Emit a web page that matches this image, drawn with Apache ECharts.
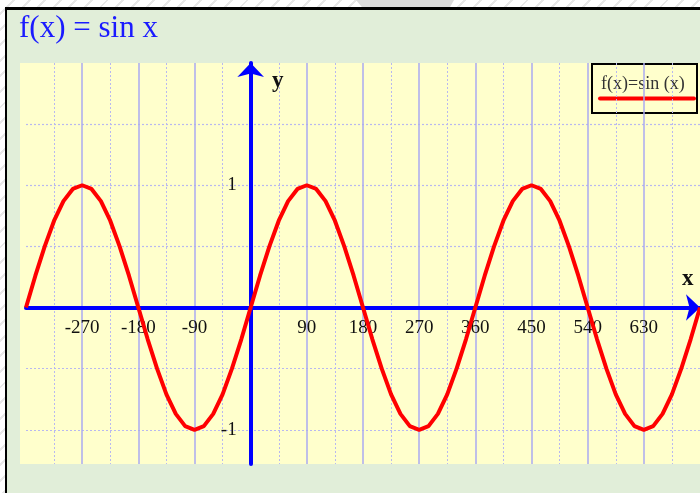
<!DOCTYPE html>
<html>
<head>
<meta charset="utf-8">
<script src="https://cdn.jsdelivr.net/npm/echarts@6/dist/echarts.min.js"></script>
<style>
  html, body { margin: 0; padding: 0; width: 700px; height: 493px; overflow: hidden; }
  body {
    background: repeating-linear-gradient(135deg, #ffffff 0px, #ffffff 9px, #e8e8e8 9px, #e8e8e8 11px);
    position: relative;
  }
  #tab {
    position: absolute; left: 356px; top: 0; width: 98px; height: 7px;
    background: #dcdcdc;
    clip-path: polygon(0 0, 100% 0, 96% 100%, 6% 100%);
  }
  #frame {
    position: absolute; left: 5px; top: 7px; width: 720px; height: 520px;
    border-left: 2px solid #000; border-top: 3px solid #000;
    background: #e1eed9;
  }
  #chart { position: absolute; left: 0; top: 0; width: 700px; height: 493px; }
</style>
</head>
<body>
<div id="tab"></div>
<div id="frame"></div>
<div id="chart"></div>
<script>
// angles in degrees
var xDegrees = [
  -360, -345, -330, -315, -300, -285, -270, -255, -240, -225, -210, -195,
  -180, -165, -150, -135, -120, -105, -90, -75, -60, -45, -30, -15,
  0, 15, 30, 45, 60, 75, 90, 105, 120, 135, 150, 165,
  180, 195, 210, 225, 240, 255, 270, 285, 300, 315, 330, 345,
  360, 375, 390, 405, 420, 435, 450, 465, 480, 495, 510, 525,
  540, 555, 570, 585, 600, 615, 630, 645, 660, 675, 690, 705,
  720
];
// f(x)
var sinValues = [
  0, 0.26, 0.5, 0.71, 0.87, 0.97, 1, 0.97, 0.87, 0.71, 0.5, 0.26,
  0, -0.26, -0.5, -0.71, -0.87, -0.97, -1, -0.97, -0.87, -0.71, -0.5, -0.26,
  0, 0.26, 0.5, 0.71, 0.87, 0.97, 1, 0.97, 0.87, 0.71, 0.5, 0.26,
  0, -0.26, -0.5, -0.71, -0.87, -0.97, -1, -0.97, -0.87, -0.71, -0.5, -0.26,
  0, 0.26, 0.5, 0.71, 0.87, 0.97, 1, 0.97, 0.87, 0.71, 0.5, 0.26,
  0, -0.26, -0.5, -0.71, -0.87, -0.97, -1, -0.97, -0.87, -0.71, -0.5, -0.26,
  0
];
var xTickLabels = [-270, -180, -90, 90, 180, 270, 360, 450, 540, 630];
var yTickLabels = [-1, 1];
var xMin = -360, xMax = 720;
var yMin = -1.28, yMax = 2;

var serif = "'Liberation Serif', 'Times New Roman', serif";

var points = [];
for (var i = 0; i < xDegrees.length; i++) {
  points.push([xDegrees[i], sinValues[i]]);
}

var myChart = echarts.init(document.getElementById('chart'));

var option = {
  backgroundColor: 'transparent',
  animation: false,
  title: {
    text: 'f(x) = sin x',
    left: 14,
    top: 8,
    textStyle: { fontFamily: serif, fontSize: 31, fontWeight: 'normal', color: '#1a1aff' }
  },
  grid: {
    left: 26, right: 0, top: 63, bottom: 29,
    outerBoundsMode: 'none',
    show: true, backgroundColor: '#ffffcc', borderWidth: 0
  },
  xAxis: {
    type: 'value',
    min: xMin, max: xMax, interval: 90,
    position: 'bottom',
    axisLine: {
      onZero: false,
      symbol: ['none', 'arrow'], symbolSize: [20, 14],
      lineStyle: { color: '#0000ff', width: 4 }
    },
    axisTick: { show: false },
    minorTick: { show: false, splitNumber: 2 },
    splitLine: { show: true, showMinLine: false, showMaxLine: false, lineStyle: { color: '#aaaaf2', width: 1.5 } },
    minorSplitLine: { show: true, lineStyle: { color: '#b8b8f0', width: 1, type: [2, 2] } },
    axisLabel: {
      margin: 11,
      fontFamily: serif, fontSize: 19, color: '#111',
      showMinLabel: false, showMaxLabel: false,
      formatter: function (v) { return xTickLabels.indexOf(v) >= 0 ? String(v) : ''; }
    }
  },
  yAxis: {
    type: 'value',
    min: yMin, max: yMax, splitNumber: 6,
    position: 'left',
    axisLine: {
      onZero: false,
      symbol: ['none', 'arrow'], symbolSize: [20, 14],
      lineStyle: { color: '#0000ff', width: 4 }
    },
    axisTick: { show: false },
    splitLine: { show: true, showMinLine: false, showMaxLine: false, lineStyle: { color: '#b8b8f0', width: 1.2, type: [2, 2] } },
    axisLabel: {
      margin: 14,
      fontFamily: serif, fontSize: 19, color: '#111',
      padding: [6, 0, 0, 0],
      formatter: function (v) { return yTickLabels.indexOf(v) >= 0 ? String(v) : ''; }
    }
  },
  graphic: [
    { type: 'rect', z: -1, shape: { x: 20, y: 63, width: 6, height: 401 }, style: { fill: '#ffffcc' } },
    { type: 'text', z: 100, left: 272, top: 70, style: { text: 'y', font: 'bold 23px ' + serif, fill: '#111' } },
    { type: 'text', z: 100, left: 682, top: 268, style: { text: 'x', font: 'bold 23px ' + serif, fill: '#111' } },
    {
      type: 'group', z: 100, left: 591, top: 63,
      children: [
        { type: 'rect', shape: { x: 0, y: 0, width: 105, height: 49 }, style: { fill: '#ffffcc', stroke: '#000', lineWidth: 2 } },
        { type: 'text', x: 9, y: 11, style: { text: 'f(x)=sin (x)', font: '18px ' + serif, fill: '#333' } },
        { type: 'line', shape: { x1: 8, y1: 34.5, x2: 102, y2: 34.5 }, style: { stroke: '#ff0000', lineWidth: 4, lineCap: 'round' } }
      ]
    }
  ],
  series: [{
    name: 'f(x)=sin (x)',
    type: 'line',
    data: points,
    showSymbol: false,
    smooth: false,
    lineStyle: { color: '#ff0000', width: 4 },
    z: 5
  }]
};

myChart.setOption(option);

// move both axes (line + labels) onto the origin
var origin = myChart.convertToPixel({ gridIndex: 0 }, [0, 0]);
var bottomY = myChart.convertToPixel({ yAxisIndex: 0 }, yMin);
var leftX = myChart.convertToPixel({ xAxisIndex: 0 }, xMin);
myChart.setOption({
  xAxis: { offset: origin[1] - bottomY },
  yAxis: { offset: leftX - origin[0] }
});
</script>
</body>
</html>
